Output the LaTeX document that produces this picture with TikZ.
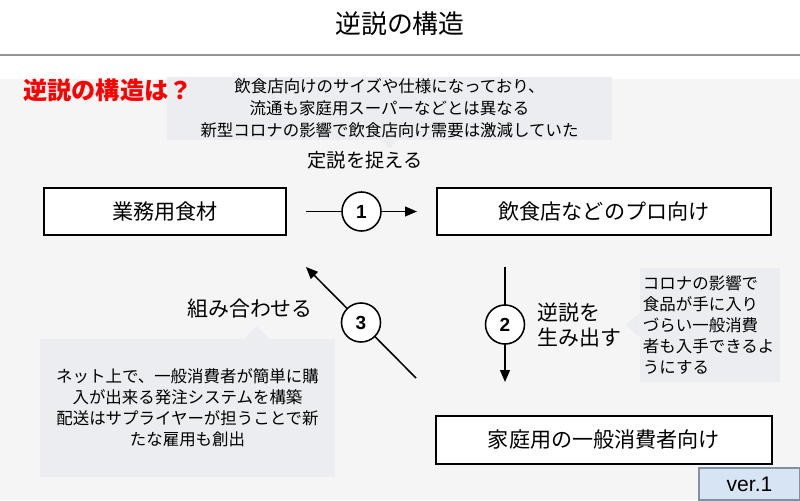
\documentclass[tikz,border=0pt]{standalone}
\usepackage{fontspec}
\setmainfont{Noto Sans CJK JP}
\newfontfamily\arialfont{Liberation Sans}
\usetikzlibrary{arrows.meta, positioning, calc}
\tikzset{
    box/.style={rectangle, draw=black, line width=1.4pt, fill=white, minimum height=1.175cm, text centered, font=\fontsize{15pt}{18pt}\selectfont},
    note/.style={rectangle, fill=notebg, inner sep=0pt, font=\fontsize{11.7pt}{14.9pt}\selectfont},
    arrow/.style={line width=1.1pt, -{Triangle[length=8.5pt,width=7pt]}},
    num/.style={circle, draw=black, line width=1.1pt, fill=white, minimum size=0.975cm, inner sep=0pt, font=\arialfont\bfseries\fontsize{13.5pt}{13.5pt}\selectfont},
    lbl/.style={font=\fontsize{14.9pt}{18.4pt}\selectfont}
}
\definecolor{pagebg}{RGB}{245,245,245}
\definecolor{notebg}{RGB}{235,237,240}
\definecolor{rulegray}{RGB}{150,150,150}
\definecolor{verbg}{RGB}{214,228,243}
\definecolor{verborder}{RGB}{130,145,160}
\definecolor{headred}{RGB}{255,0,0}
\begin{document}
\begin{tikzpicture}[x=0.025cm, y=-0.025cm]
    \useasboundingbox (0,0) rectangle (800,500);
    % Background and title
    \fill[pagebg] (0,79) rectangle (800,500);
    \draw[rulegray, line width=1.4pt] (0,55) -- (800,55);
    \node (title) at (400,24) [font=\fontsize{18.4pt}{22pt}\selectfont] {逆説の構造};

    % Top note
    \node (topnote) at (389.5,108.5) [note, minimum width=11.125cm, minimum height=1.575cm, align=center, font=\fontsize{11.7pt}{15.6pt}\selectfont] {飲食店向けのサイズや仕様になっており、\\流通も家庭用スーパーなどとは異なる\\新型コロナの影響で飲食店向け需要は激減していた};
    \fill[notebg] ($(topnote.south)+(-8,0)$) -- ($(topnote.south)+(0,8)$) -- ($(topnote.south)+(8,0)$) -- cycle;
    \node (heading) at (108,90) [font=\bfseries\fontsize{17.2pt}{20pt}\selectfont, text=headred] {逆説の構造は？};
    \node (teisetsu) at (365,160) [font=\fontsize{13.7pt}{16pt}\selectfont] {定説を捉える};

    % Boxes
    \node (gyomu) at (165,211.5) [box, minimum width=6.05cm] {業務用食材};
    \node (inshoku) at (604,211.5) [box, minimum width=8.35cm] {飲食店などのプロ向け};
    \node (katei) at (604,440) [box, minimum width=8.4cm, minimum height=1.2cm] {家庭用の一般消費者向け};

    % Arrows
    \coordinate (a2top) at (505,267);
    \coordinate (a2bot) at (505,382);
    \coordinate (a3from) at (416,378);
    \coordinate (a3to) at (306,267);
    \draw[arrow, shorten <=0.475cm, shorten >=0.475cm] (gyomu) -- node[num] {1} (inshoku);
    \draw[arrow] (a2top) -- node[num] {2} (a2bot);
    \draw[arrow] (a3from) -- node[num] {3} (a3to);

    % Labels
    \node (gyakusetsu) at (533,325) [lbl, anchor=west, align=left] {逆説を\\生み出す};
    \node (kumiawase) at (250,309) [lbl] {組み合わせる};

    % Right note
    \node (rightnote) at (710,325) [note, text width=3.35cm, inner xsep=0.075cm, minimum height=2.85cm, align=left] {コロナの影響で\\食品が手に入り\\づらい一般消費\\者も入手できるよ\\うにする};
    \fill[notebg] ($(rightnote.west)+(0,-12)$) -- ($(rightnote.west)+(-14,0)$) -- ($(rightnote.west)+(0,12)$) -- cycle;

    % Left note
    \node (leftnote) at (187.5,408) [note, minimum width=7.375cm, minimum height=3.45cm, align=center] {ネット上で、一般消費者が簡単に購\\入が出来る発注システムを構築\\配送はサプライヤーが担うことで新\\たな雇用も創出};
    \fill[notebg] ($(leftnote.north)+(57,0)$) -- ($(leftnote.north)+(69.5,-12)$) -- ($(leftnote.north)+(82,0)$) -- cycle;

    % Version tag
    \node (ver) at (749.5,484) [draw=verborder, fill=verbg, line width=0.8pt, minimum width=2.525cm, minimum height=0.8cm, font=\arialfont\fontsize{15pt}{15pt}\selectfont] {ver.1};
\end{tikzpicture}
\end{document}
